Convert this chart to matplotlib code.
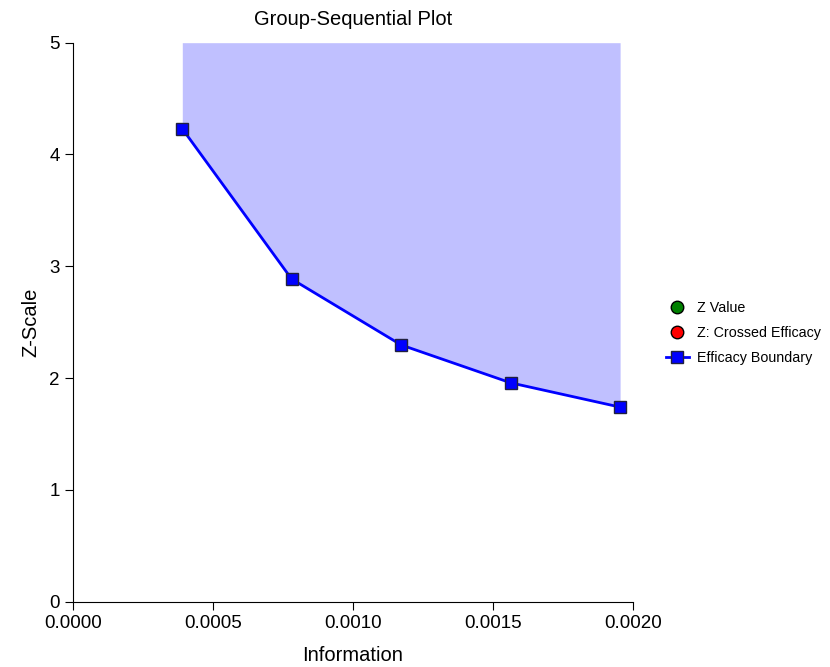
import matplotlib
matplotlib.use("Agg")
import matplotlib.pyplot as plt

# boundary values
info = [0.000391, 0.000781, 0.001172, 0.001563, 0.001953]
efficacy_z = [4.23, 2.886, 2.296, 1.957, 1.74]
z_value = []
z_crossed = []

plt.rcParams['font.family'] = ['Liberation Sans', 'DejaVu Sans']

fig = plt.figure(figsize=(8.3, 6.67), dpi=100)
ax = fig.add_axes([0.0876, 0.098, 0.6754, 0.838])

# shaded rejection region above the boundary
ax.fill_between(info, efficacy_z, 5, color="#C0C0FF", linewidth=0, zorder=1)

ax.plot(z_value, z_value, 'o', color='green', markeredgecolor='black',
        markersize=9, label="Z Value")
ax.plot(z_crossed, z_crossed, 'o', color='red', markeredgecolor='black',
        markersize=9, label="Z: Crossed Efficacy")
ax.plot(info, efficacy_z, '-s', color='blue', linewidth=2,
        markerfacecolor='blue', markeredgecolor='#202040', markersize=9,
        label="Efficacy Boundary", zorder=3)

ax.set_xlim(0, 0.002)
ax.set_ylim(0, 5)
ax.set_xticks([0, 0.0005, 0.001, 0.0015, 0.002])
ax.set_xticklabels(["0.0000", "0.0005", "0.0010", "0.0015", "0.0020"])
ax.set_yticks([0, 1, 2, 3, 4, 5])
ax.spines['top'].set_visible(False)
ax.spines['right'].set_visible(False)
ax.tick_params(direction='out', length=6, labelsize=13.5)

ax.set_xlabel("Information", fontsize=14.5, labelpad=10)
ax.set_ylabel("Z-Scale", fontsize=14.5, labelpad=6)
ax.set_title("Group-Sequential Plot", fontsize=14.5, pad=13)

ax.legend(loc='center left', bbox_to_anchor=(1.048, 0.481), frameon=False,
          fontsize=10.3, handlelength=1.6, handletextpad=0.55,
          borderaxespad=0, labelspacing=0.75)

fig.savefig("out.png", dpi=100)
